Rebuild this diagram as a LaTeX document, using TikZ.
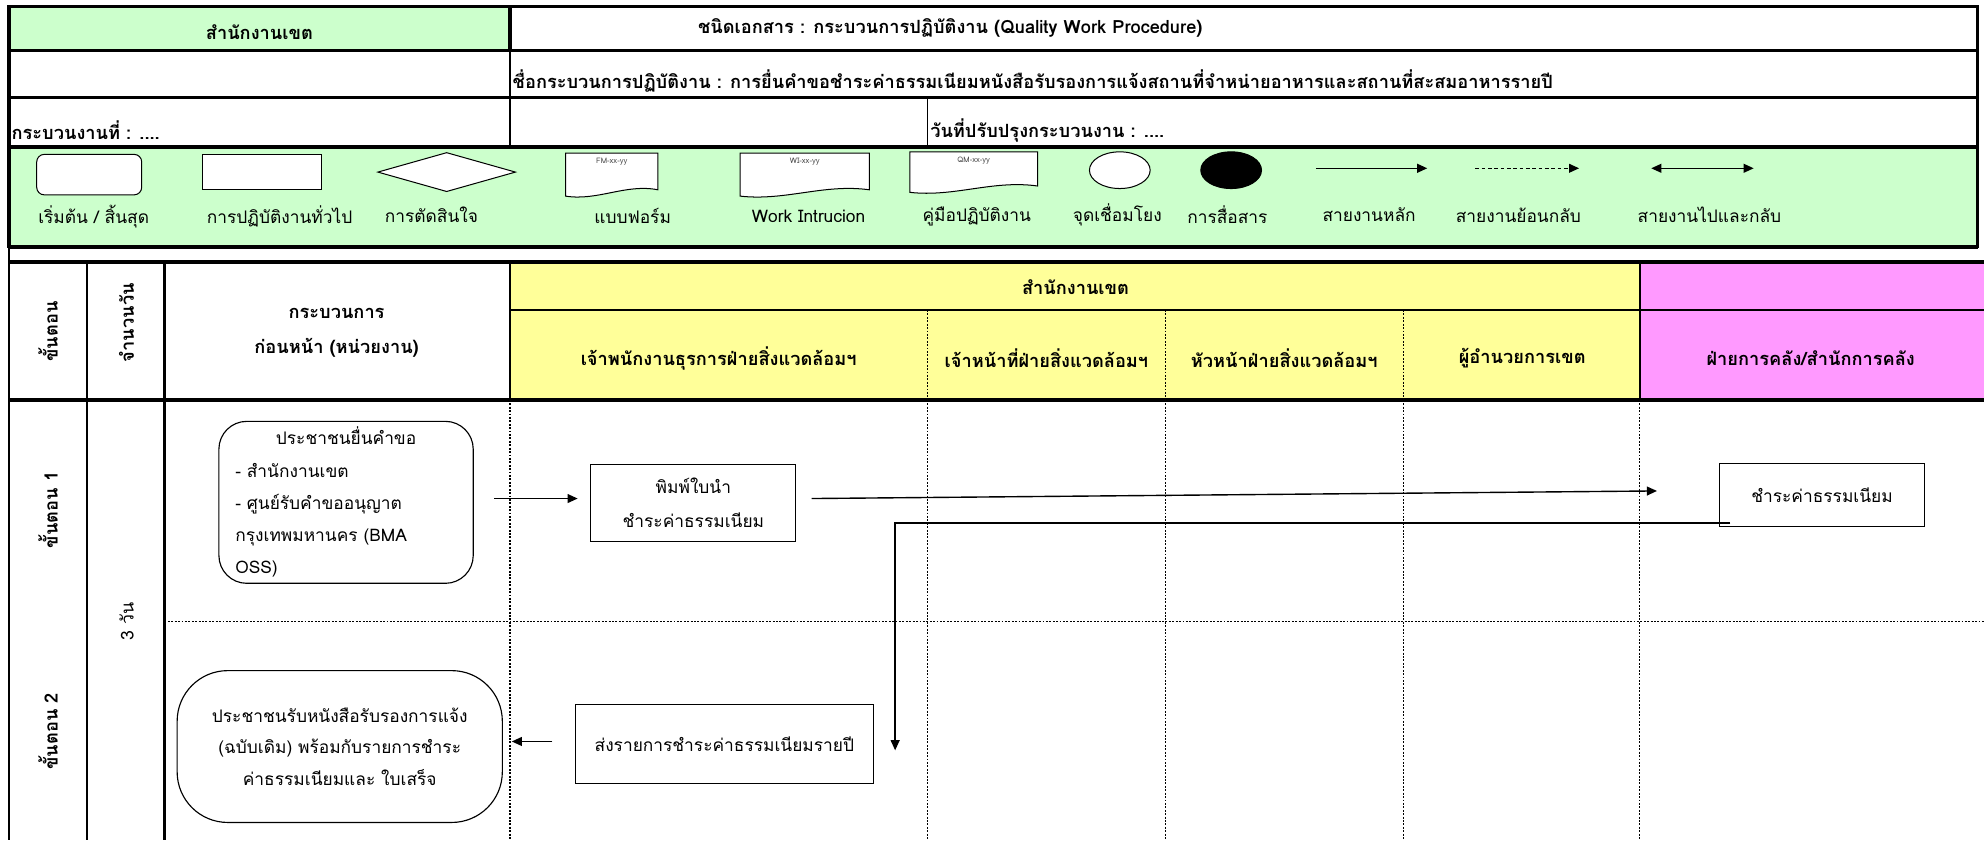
\documentclass[tikz,border=0pt]{standalone}
\usepackage{fontspec}
\setmainfont[Script=Thai]{Loma}
\usetikzlibrary{arrows.meta,shapes.geometric,calc}
\definecolor{lgreen}{HTML}{CCFFCC}
\definecolor{lyellow}{HTML}{FFFF99}
\definecolor{lpink}{HTML}{FF99FF}
\newcommand{\legdoc}[5]{%
  \draw[fill=white, line width=0.8pt] (#1,#2) -- (#3,#2) -- (#3,#4-5)
    .. controls ({#3-0.35*(#3-#1)},#4-10) and ({#1+0.35*(#3-#1)},#4+4) .. (#1,#4) -- cycle;
  \node[font=\fontsize{6}{7}\selectfont, text=black!70, inner sep=0pt] (#5) at ({(#1+#3)/2},#2+7) {#5};}
\begin{document}
\begin{tikzpicture}[x=1pt,y=-1pt,
  thickline/.style={line width=2.8pt},
  midline/.style={line width=1.6pt},
  thinline/.style={line width=1pt},
  dotline/.style={line width=1pt, dash pattern=on 1.5pt off 1.2pt},
  arr/.style={line width=1.1pt,-{Triangle[length=8pt,width=7pt]}},
  procbox/.style={draw, line width=0.9pt, inner sep=0pt, fill=white},
  hdr/.style={font=\bfseries\fontsize{14.4}{16}\selectfont, inner sep=0pt},
  lbl/.style={font=\fontsize{13.7}{15}\selectfont, inner sep=0pt},
  leg/.style={draw, fill=white, line width=0.8pt, inner sep=0pt}
]
\useasboundingbox (0,0) rectangle (1568,664);
% backgrounds
\fill[lgreen] (7,5) rectangle (403,40);
\fill[lgreen] (7,116) rectangle (1563,195);
\fill[lyellow] (403,207) rectangle (1296,316);
\fill[lpink] (1296,207) rectangle (1568,316);
% top table
\draw[thickline] (7,5) -- (1563,5);
\draw[thickline] (7,40) -- (1563,40);
\draw[thickline] (7,77) -- (1563,77);
\draw[thickline] (7,116) -- (1563,116);
\draw[thickline] (7,195) -- (1563,195);
\draw[thickline] (7,4) -- (7,196);
\draw[thickline] (1563,4) -- (1563,196);
\draw[thickline] (403,5) -- (403,40);
\draw[thinline] (403,40) -- (403,116);
\draw[thinline] (733,77) -- (733,116);
\draw[midline] (7,195) -- (7,664);
% header table
\draw[thickline] (7,207) -- (1568,207);
\draw[midline] (403,245) -- (1568,245);
\draw[thickline] (7,316) -- (1568,316);
\foreach \xx in {69,130,403,1296} \draw[midline] (\xx,207) -- (\xx,316);
\foreach \xx in {733,921,1109} \draw[dotline] (\xx,245) -- (\xx,316);
% body grid
\draw[midline] (69,316) -- (69,664);
\draw[midline] (130,316) -- (130,664);
\foreach \xx in {403,733,921,1109,1296} \draw[dotline] (\xx,316) -- (\xx,664);
\draw[dotline] (130,491) -- (1568,491);
% top texts
\node[hdr] (t1) at (205,25) {สำนักงานเขต};
\node[hdr] (t2) at (751,22) {ชนิดเอกสาร : กระบวนการปฏิบัติงาน (Quality Work Procedure)};
\node[hdr, anchor=west] (t3) at (405,64) {ชื่อกระบวนการปฏิบัติงาน : การยื่นคำขอชำระค่าธรรมเนียมหนังสือรับรองการแจ้งสถานที่จำหน่ายอาหารและสถานที่สะสมอาหารรายปี};
\node[hdr, anchor=west] (t4) at (9,103) {กระบวนงานที่ : ....};
\node[hdr, anchor=west] (t5) at (735,103) {วันที่ปรับปรุงกระบวนงาน : ....};
% legend
\node[leg, rounded corners=6pt, minimum width=83pt, minimum height=32pt] (lg1) at (70.5,138) {};
\node[leg, minimum width=94pt, minimum height=28pt] (lg2) at (207,136) {};
\node[leg, diamond, minimum width=109pt, minimum height=31pt] (lg3) at (353,136) {};
\legdoc{447}{121}{520}{155}{FM-xx-yy}
\legdoc{585}{121}{687}{155}{WI-xx-yy}
\legdoc{719}{120}{820}{152}{QM-xx-yy}
\node[leg, ellipse, minimum width=48pt, minimum height=29pt] (lg7) at (885,134.5) {};
\node[leg, ellipse, fill=black, minimum width=48pt, minimum height=29pt] (lg8) at (973,134.5) {};
\coordinate (a1s) at (1040,133); \coordinate (a1e) at (1128,133);
\coordinate (a2s) at (1166,133); \coordinate (a2e) at (1248,133);
\coordinate (a3s) at (1305,133); \coordinate (a3e) at (1386,133);
\draw[arr] (a1s) -- (a1e);
\draw[arr, dash pattern=on 3pt off 2pt] (a2s) -- (a2e);
\draw[arr, {Triangle[length=8pt,width=7pt]}-{Triangle[length=8pt,width=7pt]}] (a3s) -- (a3e);
\node[lbl] (l1) at (74,171) {เริ่มต้น / สิ้นสุด};
\node[lbl] (l2) at (221,171) {การปฏิบัติงานทั่วไป};
\node[lbl] (l3) at (341,170) {การตัดสินใจ};
\node[lbl] (l4) at (500,171) {แบบฟอร์ม};
\node[lbl] (l5) at (639,171) {Work Intrucion};
\node[lbl] (l6) at (772,171) {คู่มือปฏิบัติงาน};
\node[lbl] (l7) at (883,170) {จุดเชื่อมโยง};
\node[lbl] (l8) at (970,170) {การสื่อสาร};
\node[lbl] (l9) at (1082,170) {สายงานหลัก};
\node[lbl] (l10) at (1200,170) {สายงานย้อนกลับ};
\node[lbl] (l11) at (1351,170) {สายงานไปและกลับ};
% header texts
\node[hdr, rotate=90] (h1) at (38,262) {ขั้นตอน};
\node[hdr, rotate=90] (h2) at (100,255) {จำนวนวัน};
\node[hdr, align=center, font=\bfseries\fontsize{14.4}{28}\selectfont] (h3) at (266,263) {กระบวนการ\\ก่อนหน้า (หน่วยงาน)};
\node[hdr] (h4) at (850,227) {สำนักงานเขต};
\node[hdr] (h5) at (568,283) {เจ้าพนักงานธุรการฝ่ายสิ่งแวดล้อมฯ};
\node[hdr] (h6) at (827,283) {เจ้าหน้าที่ฝ่ายสิ่งแวดล้อมฯ};
\node[hdr] (h7) at (1015,283) {หัวหน้าฝ่ายสิ่งแวดล้อมฯ};
\node[hdr] (h8) at (1203,283) {ผู้อำนวยการเขต};
\node[hdr] (h9) at (1431,283) {ฝ่ายการคลัง/สำนักการคลัง};
% body labels
\node[hdr, rotate=90] (s1) at (38,403) {ขั้นตอน 1};
\node[hdr, rotate=90] (s2) at (38,578) {ขั้นตอน 2};
\node[lbl, rotate=90, font=\fontsize{14}{16}\selectfont] (d1) at (100,491) {3 วัน};
% process boxes
\node[procbox, rounded corners=22pt, minimum width=201pt, minimum height=128pt,
  text width=175pt, inner xsep=13pt, align=left, font=\fontsize{13.7}{25.5}\selectfont] (A) at (273.5,397)
  {{\centering ประชาชนยื่นคำขอ\par}\raggedright - สำนักงานเขต\\- ศูนย์รับคำขออนุญาต\\กรุงเทพมหานคร (BMA\\OSS)};
\node[procbox, minimum width=162pt, minimum height=61pt, align=center, font=\fontsize{13.7}{27}\selectfont] (B) at (548,397.5)
  {พิมพ์ใบนำ\\ชำระค่าธรรมเนียม};
\node[procbox, minimum width=162pt, minimum height=50pt, font=\fontsize{13.7}{15}\selectfont] (C) at (1440,391)
  {ชำระค่าธรรมเนียม};
\node[procbox, minimum width=235pt, minimum height=62pt, font=\fontsize{13.7}{15}\selectfont] (D) at (572.5,588)
  {ส่งรายการชำระค่าธรรมเนียมรายปี};
\node[procbox, rounded corners=40pt, minimum width=257pt, minimum height=120pt, align=center,
  font=\fontsize{13.7}{25}\selectfont] (E) at (268.5,590)
  {ประชาชนรับหนังสือรับรองการแจ้ง\\(ฉบับเดิม) พร้อมกับรายการชำระ\\ค่าธรรมเนียมและ ใบเสร็จ};
% connectors
\draw[arr] ([xshift=16pt,yshift=3pt]A.east) -- ([xshift=-10pt,yshift=3.5pt]B.west);
\draw[arr] ([xshift=12pt,yshift=3.5pt]B.east) -- ([xshift=-49pt,yshift=3pt]C.west);
\draw[arr] ([xshift=9pt,yshift=3pt]C.south west) -| ([xshift=17pt,yshift=-5pt]D.east);
\draw[arr] ([xshift=-18pt,yshift=2pt]D.west) -- ([xshift=7pt,yshift=4pt]E.east);
\end{tikzpicture}
\end{document}
